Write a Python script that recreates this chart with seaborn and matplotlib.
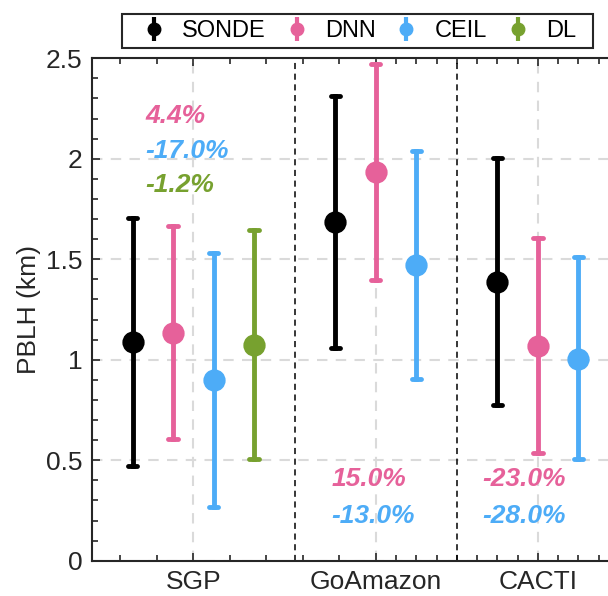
import numpy as np
import pandas as pd
import matplotlib
matplotlib.use("Agg")
import matplotlib.pyplot as plt
from matplotlib.patches import Rectangle
from matplotlib.ticker import FixedLocator, MultipleLocator, FuncFormatter
import seaborn as sns

# ---- data -------------------------------------------------------------
sites = ["SGP", "GoAmazon", "CACTI"]
methods = ["SONDE", "DNN", "CEIL", "DL"]
palette = {"SONDE": "#000000", "DNN": "#E6619A", "CEIL": "#4DACF7", "DL": "#77A12F"}

site_col = ["SGP", "SGP", "SGP", "SGP",
            "GoAmazon", "GoAmazon", "GoAmazon",
            "CACTI", "CACTI", "CACTI"]
method_col = ["SONDE", "DNN", "CEIL", "DL",
              "SONDE", "DNN", "CEIL",
              "SONDE", "DNN", "CEIL"]
pblh_mean = [1.087, 1.134, 0.899, 1.075, 1.684, 1.932, 1.470, 1.388, 1.068, 1.003]
pblh_low = [0.473, 0.604, 0.265, 0.504, 1.058, 1.397, 0.902, 0.775, 0.537, 0.504]
pblh_high = [1.703, 1.667, 1.532, 1.644, 2.312, 2.471, 2.040, 2.002, 1.604, 1.509]

# relative bias of each retrieval against SONDE (%)
bias_site = ["SGP", "SGP", "SGP", "GoAmazon", "GoAmazon", "CACTI", "CACTI"]
bias_method = ["DNN", "CEIL", "DL", "DNN", "CEIL", "DNN", "CEIL"]
bias_pct = [4.4, -17.0, -1.2, 15.0, -13.0, -23.0, -28.0]

# ---- layout: one slot per point, one empty slot between sites ---------
xpos, slot, prev = [], 0, None
for s in site_col:
    if prev is not None and s != prev:
        slot += 1
    slot += 1
    xpos.append(slot)
    prev = s
site_center = {s: np.mean([x for x, ss in zip(xpos, site_col) if ss == s]) for s in sites}
site_gaps = [max(x for x, ss in zip(xpos, site_col) if ss == s) + 1 for s in sites[:-1]]

# long table: low / mean / high per point -> median + full range interval
rows = []
for x, s, m, lo, mu, hi in zip(xpos, site_col, method_col, pblh_low, pblh_mean, pblh_high):
    for v in (lo, mu, hi):
        rows.append({"x": x, "site": s, "method": m, "pblh": v})
df = pd.DataFrame(rows)

# ---- style -------------------------------------------------------------
sns.set_theme(style="ticks")
plt.rcParams["font.family"] = ["Liberation Sans", "DejaVu Sans"]
ink = "#262626"
fs = 19

fig = plt.figure(figsize=(6.08, 5.96), dpi=100)
ax = fig.add_axes([92 / 608, 35.3 / 596, 527 / 608, 502.4 / 596])

sns.pointplot(
    data=df, x="x", y="pblh", hue="method", hue_order=methods, palette=palette,
    estimator="median", errorbar=("pi", 100), native_scale=True, dodge=False,
    linestyle="none", markers="o", markersize=14, capsize=0.23,
    err_kws={"linewidth": 3.5}, legend=False, ax=ax, zorder=3,
)

ax.set_xlim(0, 13)
ax.set_ylim(0, 2.5)

# grid and site separators
ax.set_axisbelow(True)
ax.grid(True, which="major", color="#DADADA", linestyle=(0, (5, 4)), linewidth=1.5)
for g in site_gaps:
    ax.axvline(g, color="black", linestyle=(0, (4, 3)), linewidth=1.1, zorder=1)

# ticks
ax.xaxis.set_major_locator(FixedLocator([site_center[s] for s in sites]))
ax.set_xticklabels(sites)
ax.xaxis.set_minor_locator(FixedLocator([0.7, 1.6, 3.4, 4.3, 5.2, 6.1, 7.5, 8, 8.5,
                                         9, 9.5, 10, 10.5, 11.5, 12, 12.5]))
ax.yaxis.set_major_locator(MultipleLocator(0.5))
ax.yaxis.set_minor_locator(MultipleLocator(0.1))
ax.yaxis.set_major_formatter(FuncFormatter(lambda v, p: f"{v:g}"))
ax.tick_params(which="both", direction="in", top=True, right=False,
               color=ink, width=1.2, labelsize=fs, labelcolor=ink)
ax.tick_params(which="major", length=6, pad=7)
ax.tick_params(which="minor", length=4)
ax.tick_params(axis="x", which="major", pad=6.5)
for side in ("left", "bottom", "top"):
    ax.spines[side].set_visible(True)
    ax.spines[side].set_color(ink)
    ax.spines[side].set_linewidth(1.5)

ax.set_xlabel("")
ax.set_ylabel("PBLH (km)", fontsize=fs, color=ink, labelpad=3)

# bias annotations
text_anchor = {"SGP": (1.32, 2.212, -0.172), "GoAmazon": (5.9, 0.409, -0.187),
               "CACTI": (9.63, 0.409, -0.187)}
count = {s: 0 for s in sites}
for s, m, b in zip(bias_site, bias_method, bias_pct):
    x0, y0, dy = text_anchor[s]
    ax.text(x0, y0 + dy * count[s], f"{b:.1f}%", color=palette[m], fontsize=fs,
            fontweight="bold", fontstyle="italic", ha="left", va="center", zorder=4)
    count[s] += 1

# legend box and entries with error-bar glyphs
W, H = 608.0, 596.0
fig.patches.append(Rectangle((122 / W, 1 - 48 / H), 471 / W, 34 / H,
                             transform=fig.transFigure, facecolor="white",
                             edgecolor=ink, linewidth=1.5, zorder=5))
handles = []
for m in methods:
    h = ax.errorbar([], [], yerr=[], fmt="o", color=palette[m], markersize=9,
                    elinewidth=3, capsize=3.5, capthick=3)
    handles.append(h)
leg = fig.legend(handles, methods, loc="center left", ncol=4,
                 bbox_to_anchor=(142 / W, 1 - 31 / H),
                 frameon=False, fontsize=17, handlelength=1.0,
                 handletextpad=0.7, borderaxespad=0, borderpad=0,
                 columnspacing=0.8)
leg.set_zorder(6)
for t in leg.get_texts():
    t.set_color("black")

fig.savefig("out.png", dpi=100)
